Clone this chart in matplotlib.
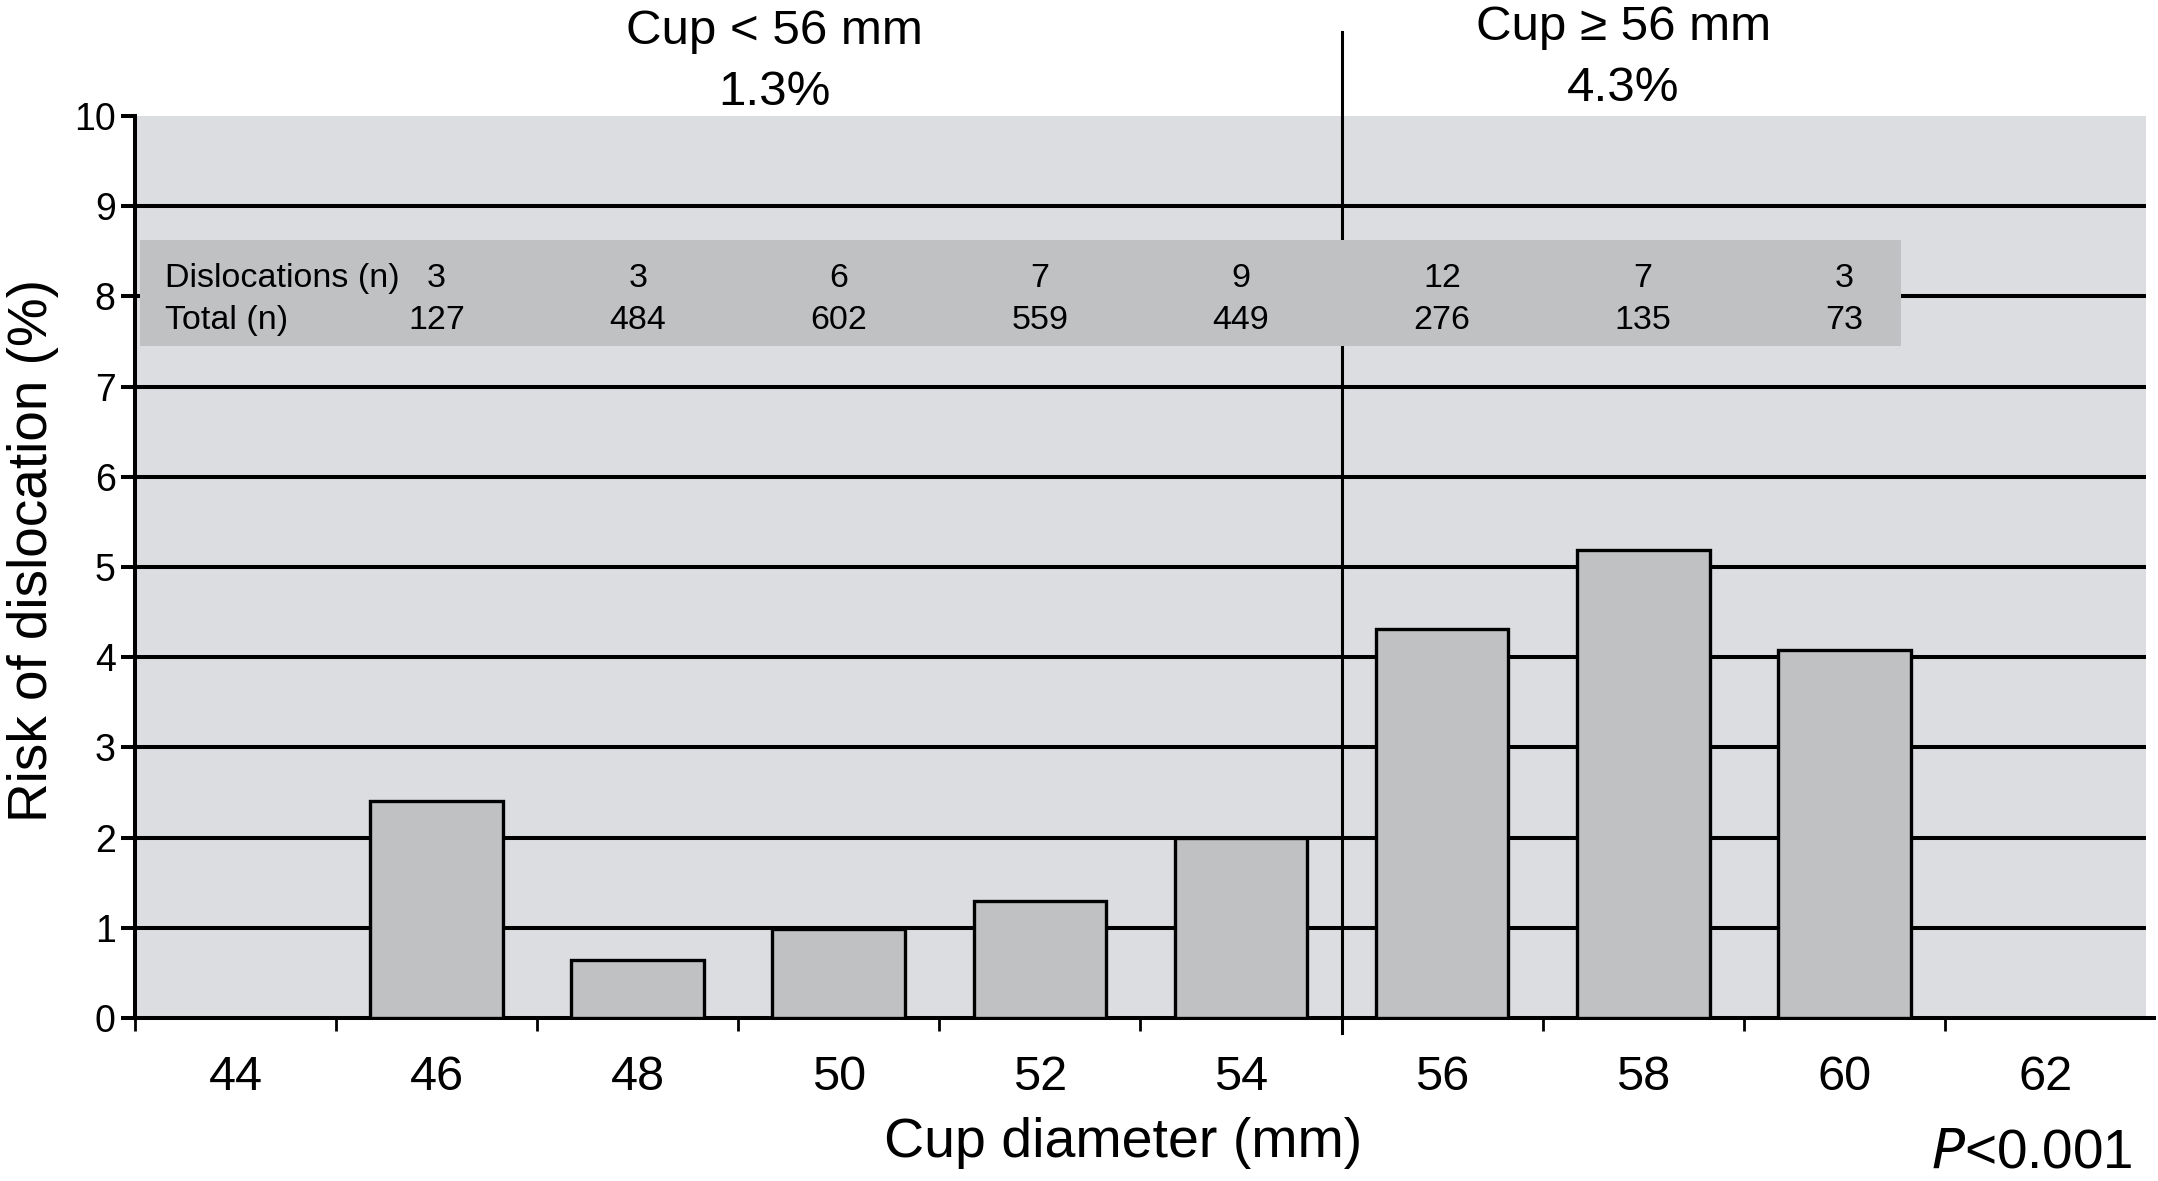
import numpy as np
import matplotlib
matplotlib.use("Agg")
import matplotlib.pyplot as plt
from matplotlib.patches import Rectangle

plt.rcParams['font.family'] = ['Liberation Sans', 'DejaVu Sans']

# data
diameters = [44, 46, 48, 50, 52, 54, 56, 58, 60, 62]
bar_sizes = [46, 48, 50, 52, 54, 56, 58, 60]
risk = [2.41, 0.64, 0.99, 1.30, 2.0, 4.31, 5.19, 4.08]
dislocations = [3, 3, 6, 7, 9, 12, 7, 3]
totals = [127, 484, 602, 559, 449, 276, 135, 73]
group_labels = ['Cup < 56 mm\n1.3%', 'Cup \u2265 56 mm\n4.3%']

BG = '#dcdde0'
BAR = '#c0c1c3'

fig = plt.figure(figsize=(21.58, 11.81), dpi=100)
ax = fig.add_axes([135 / 2158, 1 - 1018 / 1181, (2154 - 135) / 2158, (1018 - 116) / 1181])
ax.set_facecolor('white')

pos = {d: i for i, d in enumerate(diameters)}
x_bars = [pos[d] for d in bar_sizes]

ax.set_xlim(-0.5, 9.54)
ax.set_ylim(0, 10)

# grey plotting area
ax.add_patch(Rectangle((-0.5, 0), 10, 10, facecolor=BG, edgecolor='none', zorder=0))

# horizontal rules
ax.hlines(range(1, 10), -0.5, 9.5, colors='black', linewidth=2.9, zorder=1)

# divider between the two cup groups
ax.plot([5.5, 5.5], [-0.17, 10.93], color='black', linewidth=2.2, zorder=1.5, clip_on=False)

# bars
ax.bar(x_bars, risk, width=0.66, color=BAR, edgecolor='black', linewidth=2.4, zorder=3)

# counts band
ax.add_patch(Rectangle((-0.475, 7.45), 8.755, 1.18, facecolor=BAR, edgecolor='none', zorder=4))
ax.text(-0.35, 8.2, 'Dislocations (n)', fontsize=24.5, ha='left', va='center', zorder=5)
ax.text(-0.35, 7.73, 'Total (n)', fontsize=24.5, ha='left', va='center', zorder=5)
for x, n, t in zip(x_bars, dislocations, totals):
    ax.text(x, 8.2, str(n), fontsize=24.5, ha='center', va='center', zorder=5)
    ax.text(x, 7.73, str(t), fontsize=24.5, ha='center', va='center', zorder=5)

# group headers
ax.text(2.68, 10.6, group_labels[0], fontsize=35.5, ha='center', va='center',
        linespacing=1.45, clip_on=False)
ax.text(6.9, 10.64, group_labels[1], fontsize=35.5, ha='center', va='center',
        linespacing=1.45, clip_on=False)

# axes styling
for s in ['top', 'right']:
    ax.spines[s].set_visible(False)
ax.spines['left'].set_linewidth(2.9)
ax.spines['bottom'].set_linewidth(2.9)
ax.spines['left'].set_bounds(0, 10)
ax.spines['bottom'].set_zorder(2)

ax.set_yticks(range(11))
ax.tick_params(axis='y', labelsize=27, length=10, width=2.9, pad=4, direction='out')

ax.set_xticks(range(len(diameters)))
ax.set_xticklabels([str(d) for d in diameters])
ax.set_xticks(np.arange(-0.5, 9, 1.0), minor=True)
ax.tick_params(axis='x', which='major', length=0, labelsize=35, pad=27)
ax.tick_params(axis='x', which='minor', length=9, width=2.0, direction='out')

fig.text(1123 / 2158, 1 - 1157 / 1181, 'Cup diameter (mm)', fontsize=40,
         ha='center', va='baseline')
fig.text(33 / 2158, 1 - 551 / 1181, 'Risk of dislocation (%)', fontsize=39.5,
         ha='center', va='center', rotation=90)
fig.text(2133 / 2158, 1 - 1168 / 1181, r'$P$<0.001', fontsize=39.5,
         ha='right', va='baseline')

fig.savefig('out.png', dpi=100)
